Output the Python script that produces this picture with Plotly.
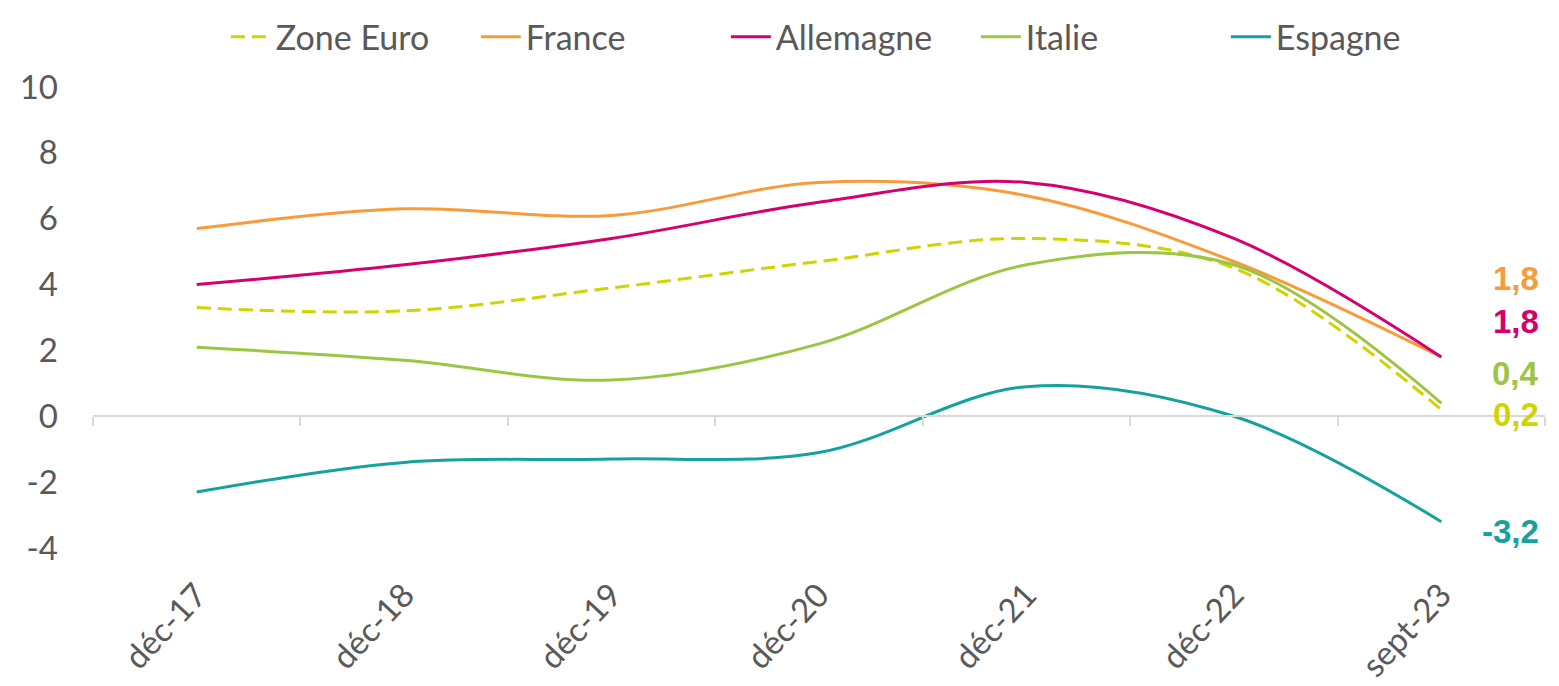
import plotly.graph_objects as go

categories = ["déc-17", "déc-18", "déc-19", "déc-20", "déc-21", "déc-22", "sept-23"]
zone_euro = [3.3, 3.2, 3.9, 4.7, 5.4, 4.5, 0.2]
france = [5.7, 6.3, 6.1, 7.1, 6.7, 4.7, 1.8]
allemagne = [4.0, 4.6, 5.4, 6.5, 7.1, 5.4, 1.8]
italie = [2.1, 1.7, 1.1, 2.2, 4.6, 4.6, 0.4]
espagne = [-2.3, -1.4, -1.3, -1.1, 0.9, 0.0, -3.2]

y_ticks = [-4, -2, 0, 2, 4, 6, 8, 10]
y_tick_text = ["-4", "-2", "0", "2", "4", "6", "8", "10"]

end_labels = ["1,8", "1,8", "0,4", "0,2", "-3,2"]
end_label_y = [4.18, 2.88, 1.30, 0.05, -3.50]

C_ZE = "#CFD400"
C_FR = "#F79B3B"
C_DE = "#D5006D"
C_IT = "#9DC544"
C_ES = "#15A29E"

x_idx = list(range(len(categories)))
FONT = "Lato"
GREY = "#595959"

fig = go.Figure()
series = [
    ("Zone Euro", zone_euro, C_ZE, "14px,7px"),
    ("France", france, C_FR, "solid"),
    ("Allemagne", allemagne, C_DE, "solid"),
    ("Italie", italie, C_IT, "solid"),
    ("Espagne", espagne, C_ES, "solid"),
]
for name, vals, col, dash in series:
    fig.add_trace(go.Scatter(
        x=x_idx, y=vals, name=name, mode="lines",
        line=dict(color=col, width=3, dash=dash, shape="spline", smoothing=1.0),
    ))

# dummy trace to materialise the axis crossing at zero
fig.add_trace(go.Scatter(x=[-0.5], y=[0], xaxis="x2", mode="markers",
                         marker=dict(opacity=0), showlegend=False, hoverinfo="skip"))

label_colors = [C_FR, C_DE, C_IT, C_ZE, C_ES]
for txt, yv, col in zip(end_labels, end_label_y, label_colors):
    fig.add_annotation(x=0.997, xref="paper", y=yv, yref="y", text=txt,
                       showarrow=False, xanchor="right", yanchor="middle",
                       font=dict(family="Liberation Sans", size=33, color=col, weight="bold"))

fig.update_layout(
    width=1551, height=678,
    margin=dict(l=85, r=14, t=79, b=138, autoexpand=False),
    paper_bgcolor="white", plot_bgcolor="white",
    font=dict(family=FONT, color=GREY, size=33),
    legend=dict(orientation="h", x=0.0915, xanchor="left", y=1.171, yanchor="top",
                font=dict(family=FONT, size=34, color=GREY),
                entrywidth=195, entrywidthmode="pixels", itemwidth=40),
    xaxis=dict(range=[-0.5, 6.5], tickvals=x_idx, ticktext=categories,
               tickangle=-47, showgrid=False, zeroline=False, showline=False,
               ticks="", ticklabelstandoff=20, automargin=False,
               tickfont=dict(family=FONT, size=33, color=GREY)),
    xaxis2=dict(overlaying="x", anchor="free", position=4 / 14, range=[-0.5, 6.5],
                tickvals=[i - 0.5 for i in range(len(categories) + 1)],
                showticklabels=False, ticks="outside", ticklen=9, tickwidth=1.5,
                tickcolor="#D9D9D9", showline=True, linecolor="#D9D9D9", linewidth=1.5,
                showgrid=False, zeroline=False),
    yaxis=dict(range=[-4, 10], tickvals=y_ticks, ticktext=y_tick_text, showgrid=False,
               zeroline=False, showline=False, ticks="", ticklabelstandoff=34,
               automargin=False,
               tickfont=dict(family=FONT, size=33, color=GREY)),
    showlegend=True,
)

fig.write_html("out.html")
